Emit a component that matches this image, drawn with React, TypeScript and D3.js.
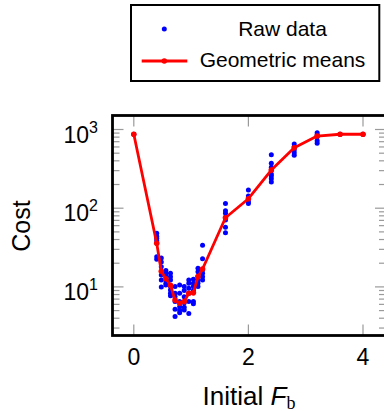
import * as d3 from "d3";

// initial F_b values where the runs were made
const fbValues = [0, 0.4, 0.48, 0.56, 0.64, 0.72, 0.8, 0.88, 0.96, 1.04, 1.12, 1.2, 1.6, 2.0, 2.4, 2.8, 3.2, 3.6, 4.0];
// geometric mean of the cost at each F_b
const meanCost = [870, 35.8, 15.8, 12.7, 10.5, 6.8, 6.2, 6.5, 8.3, 8.4, 13.5, 16.9, 75.7, 132, 305, 587, 826, 870, 870];
// raw cost samples, one list per F_b
const rawCost = [
  [870],
  [48, 44, 41.5, 38.7, 24.2, 22.4],
  [23.3, 20.7, 18, 14.2, 12.2, 10],
  [16.1, 14.9, 13.8, 12.2, 11.1, 10.6],
  [14.9, 13.5, 12.2, 10.1, 9.1, 8.3, 7.7],
  [10.1, 8.3, 7.5, 6.5, 5.2, 4.2],
  [10.6, 8.3, 6.5, 5.6, 5.1, 4.7],
  [10.1, 9.0, 7.5, 6.3, 5.5, 5.1],
  [12.2, 11.1, 9.6, 8.3, 6.5, 4.6],
  [12.5, 11.1, 10.1, 9.0, 6.5, 6.1],
  [17.2, 15.6, 13.5, 12.2, 11.1, 10.1],
  [33.8, 22.8, 16.4, 14.9, 13.5, 12.2],
  [115, 93, 86, 76.6, 70.8, 57.1, 48.9],
  [170, 143, 132, 121, 115],
  [479, 372, 331, 305, 272, 256, 237, 215],
  [655, 604, 550, 507, 470],
  [910, 851, 811, 721, 668],
  [870],
  [870],
];
const xTicks = [0, 2, 4];
const yTicks = [10, 100, 1000];

const W = 384;
const H = 411;
const LEFT = 112.5;
const RIGHT = 386;
const TOP = 115.5;
const BOTTOM = 335.5;
const FONT = "'Liberation Sans', Arial, sans-serif";
const TICK_GREY = "#9a9a9a";

export default function App() {
  const x = d3.scaleLinear().domain([0, 4]).range([133.8, 363]);
  const y = d3.scaleLog().domain([10, 1000]).range([286.9, 129.5]);
  const yMin = y.invert(BOTTOM);
  const yMax = y.invert(TOP);

  // minor ticks 2..9 per decade that fall inside the frame
  const minor: number[] = [];
  for (let e = 0; e <= 3; e++) {
    for (let m = 2; m <= 9; m++) {
      const v = m * Math.pow(10, e);
      if (v > yMin && v < yMax) minor.push(v);
    }
  }

  const points = rawCost.flatMap((vals, i) => vals.map((v) => ({ fb: fbValues[i], v })));
  const means = fbValues.map((fb, i) => ({ fb, v: meanCost[i] }));

  const line = d3
    .line<{ fb: number; v: number }>()
    .x((d) => x(d.fb))
    .y((d) => y(d.v));

  return (
    <svg width={W} height={H} style={{ position: "absolute", left: 0, top: 0 }} fontFamily={FONT}>
      <rect x={0} y={0} width={W} height={H} fill="white" />

      {/* minor y ticks, both sides */}
      {minor.map((v, i) => (
        <g key={"mn" + i} stroke={TICK_GREY} strokeWidth={1.2}>
          <line x1={LEFT} x2={LEFT + 7} y1={y(v)} y2={y(v)} />
          <line x1={RIGHT - 7} x2={RIGHT} y1={y(v)} y2={y(v)} />
        </g>
      ))}
      {/* major y ticks */}
      {yTicks.map((v) => (
        <g key={"my" + v} stroke={TICK_GREY} strokeWidth={1.2}>
          <line x1={LEFT} x2={LEFT + 11} y1={y(v)} y2={y(v)} />
          <line x1={RIGHT - 11} x2={RIGHT} y1={y(v)} y2={y(v)} />
        </g>
      ))}
      {/* x ticks top and bottom */}
      {xTicks.map((v) => (
        <g key={"mx" + v} stroke={TICK_GREY} strokeWidth={1.2}>
          <line x1={x(v)} x2={x(v)} y1={BOTTOM} y2={BOTTOM - 11} />
          <line x1={x(v)} x2={x(v)} y1={TOP} y2={TOP + 11} />
        </g>
      ))}

      {/* raw data */}
      {points.map((d, i) => (
        <circle key={"p" + i} cx={x(d.fb)} cy={y(d.v)} r={2.5} fill="#0000ff" />
      ))}

      {/* geometric means */}
      <path d={line(means) ?? ""} fill="none" stroke="#ff0000" strokeWidth={2.8} strokeLinejoin="round" />
      {means.map((d, i) => (
        <circle key={"m" + i} cx={x(d.fb)} cy={y(d.v)} r={2.8} fill="#ff0000" />
      ))}

      {/* frame */}
      <rect x={LEFT} y={TOP} width={RIGHT - LEFT} height={BOTTOM - TOP} fill="none" stroke="black" strokeWidth={2.8} />

      {/* y tick labels */}
      {yTicks.map((v) => (
        <text key={"yl" + v} x={98} y={y(v) + 13} textAnchor="end" fontSize={23} fill="black">
          10
          <tspan fontSize={16} dy={-10}>
            {Math.round(Math.log10(v))}
          </tspan>
        </text>
      ))}
      {/* x tick labels */}
      {xTicks.map((v) => (
        <text key={"xl" + v} x={x(v)} y={365} textAnchor="middle" fontSize={23} fill="black">
          {v}
        </text>
      ))}

      {/* axis labels */}
      <text x={249} y={405} textAnchor="middle" fontSize={26} fill="black">
        Initial{" "}
        <tspan fontStyle="italic">F</tspan>
        <tspan fontFamily="'Liberation Serif', serif" fontSize={18} dy={4}>
          b
        </tspan>
      </text>
      <text transform="translate(29.5,226) rotate(-90)" textAnchor="middle" fontSize={25} fill="black">
        Cost
      </text>

      {/* legend */}
      <rect x={131} y={5} width={248.3} height={76} fill="white" stroke="black" strokeWidth={2} />
      <circle cx={164.3} cy={29} r={2.5} fill="#0000ff" />
      <text x={282.5} y={35.5} textAnchor="middle" fontSize={21} fill="black">
        Raw data
      </text>
      <line x1={141.7} x2={187.3} y1={61} y2={61} stroke="#ff0000" strokeWidth={2.8} />
      <circle cx={164.3} cy={61} r={2.8} fill="#ff0000" />
      <text x={282.5} y={67} textAnchor="middle" fontSize={21} fill="black">
        Geometric means
      </text>
    </svg>
  );
}
